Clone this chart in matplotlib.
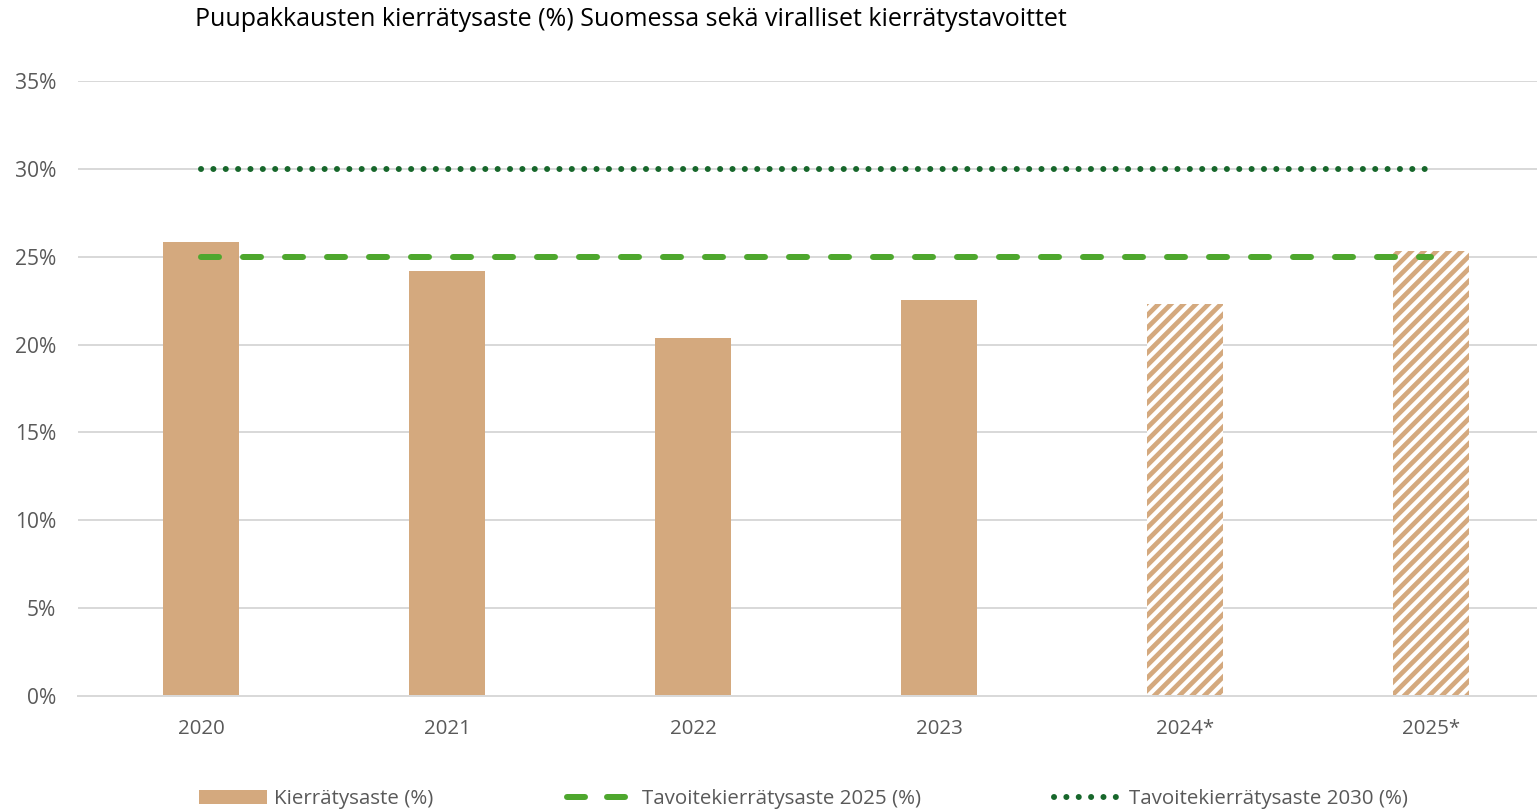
import numpy as np
import matplotlib.pyplot as plt
from matplotlib.lines import Line2D
from matplotlib.patches import Patch

DPI = 150
W, H = 1537, 812


def px(v):
    # pixel size -> points at the chosen dpi
    return v * 72 / DPI


plt.rcParams['font.family'] = ['Open Sans', 'DejaVu Sans']
plt.rcParams['hatch.linewidth'] = px(4.7)

years = ['2020', '2021', '2022', '2023', '2024*', '2025*']
rate = [25.85, 24.2, 20.4, 22.55, 22.3, 25.3]
estimate = [False, False, False, False, True, True]
target_2025 = 25
target_2030 = 30

bar_color = '#D4A97E'
dash_color = '#4EA72E'
dot_color = '#17672B'
text_color = '#595959'
grid_color = '#D9D9D9'

fig = plt.figure(figsize=(W / DPI, H / DPI), dpi=DPI)
ax = fig.add_axes([78 / W, 116 / H, 1476 / W, 615 / H])

x = np.arange(len(years))
for xi, val, est in zip(x, rate, estimate):
    if est:
        ax.bar(xi, val, width=0.313, color='white', edgecolor=bar_color,
               hatch='////', linewidth=0, zorder=2)
    else:
        ax.bar(xi, val, width=0.313, color=bar_color, linewidth=0, zorder=2)

ax.plot(x, [target_2025] * len(x), color=dash_color, lw=px(6),
        linestyle=(0, (3, 4)), dash_capstyle='round', zorder=3)
ax.plot(x, [target_2030] * len(x), color=dot_color, lw=px(6),
        linestyle=(0, (0.01, 2.05)), dash_capstyle='round', zorder=3)

ax.set_xlim(-0.5, 5.5)
ax.set_ylim(0, 35)
ax.set_yticks(np.arange(0, 36, 5))
ax.set_yticklabels([f'{v}%' for v in range(0, 36, 5)])
ax.set_xticks(x)
ax.set_xticklabels(years)
ax.tick_params(axis='both', length=0, colors=text_color)
ax.tick_params(axis='x', pad=px(23), labelsize=px(20.5))
ax.tick_params(axis='y', pad=px(22), labelsize=px(21))
ax.grid(axis='y', color=grid_color, lw=px(2), zorder=0)
ax.set_axisbelow(True)
for s in ['top', 'right', 'left']:
    ax.spines[s].set_visible(False)
ax.spines['bottom'].set_color(grid_color)
ax.spines['bottom'].set_linewidth(px(2))

fig.text(195 / W, 1 - 20 / H,
         'Puupakkausten kierrätysaste (%) Suomessa sekä viralliset kierrätystavoittet',
         fontsize=px(25), color='black', va='center', ha='left')

handles = [
    Patch(facecolor=bar_color, edgecolor='none'),
    Line2D([], [], color=dash_color, lw=px(6), linestyle=(0, (3, 3.67)), dash_capstyle='round'),
    Line2D([], [], color=dot_color, lw=px(6), linestyle=(0, (0.01, 2.05)), dash_capstyle='round'),
]
labels = ['Kierrätysaste (%)', 'Tavoitekierrätysaste 2025 (%)', 'Tavoitekierrätysaste 2030 (%)']
fig.legend(handles, labels, loc='center left', bbox_to_anchor=(199 / W, 1 - 799 / H),
           ncol=3, frameon=False, fontsize=px(20.5), labelcolor=text_color,
           handlelength=3.32, handletextpad=0.34, columnspacing=6.5,
           borderaxespad=0, borderpad=0)

fig.savefig('out.png', dpi=DPI)
